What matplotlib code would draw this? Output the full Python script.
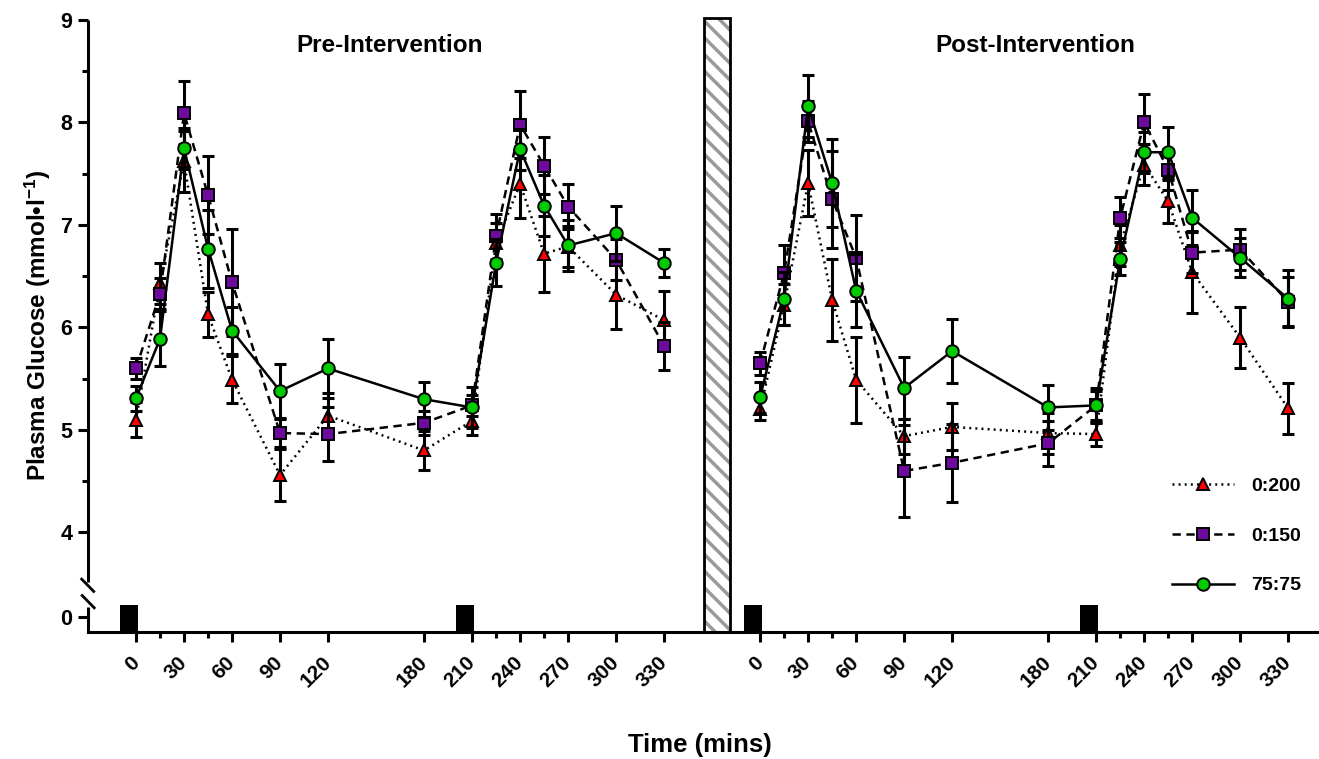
import matplotlib
matplotlib.use('Agg')
import matplotlib.pyplot as plt
import matplotlib.transforms as mtransforms
from matplotlib.lines import Line2D
from matplotlib.patches import Rectangle

plt.rcParams['font.family'] = ['Liberation Sans', 'DejaVu Sans']
plt.rcParams['font.weight'] = 'bold'
plt.rcParams['mathtext.fontset'] = 'custom'
plt.rcParams['mathtext.rm'] = 'Liberation Sans:bold'
plt.rcParams['mathtext.bf'] = 'Liberation Sans:bold'
plt.rcParams['mathtext.default'] = 'rm'
plt.rcParams['lines.scale_dashes'] = False
plt.rcParams['hatch.linewidth'] = 2.5

# ---------------- data ----------------
times = [0, 15, 30, 45, 60, 90, 120, 180, 210, 225, 240, 255, 270, 300, 330]
tick_times = [0, 30, 60, 90, 120, 180, 210, 240, 270, 300, 330]
minor_times = [15, 45, 225, 255]
meal_times = [0, 210]
series_labels = ['0:200', '0:150', '75:75']

pre_0_200 = [5.10, 6.43, 7.62, 6.13, 5.49, 4.56, 5.14, 4.80, 5.09, 6.82, 7.40, 6.72, 6.79, 6.32, 6.07]
pre_0_200_err = [0.17, 0.20, 0.30, 0.22, 0.23, 0.25, 0.22, 0.19, 0.14, 0.20, 0.33, 0.37, 0.20, 0.33, 0.29]
pre_0_150 = [5.60, 6.33, 8.09, 7.29, 6.44, 4.97, 4.96, 5.07, 5.24, 6.89, 7.98, 7.58, 7.18, 6.66, 5.82]
pre_0_150_err = [0.10, 0.15, 0.31, 0.38, 0.52, 0.14, 0.26, 0.12, 0.10, 0.22, 0.33, 0.28, 0.22, 0.20, 0.23]
pre_75_75 = [5.31, 5.89, 7.75, 6.77, 5.97, 5.38, 5.60, 5.30, 5.22, 6.63, 7.74, 7.19, 6.80, 6.92, 6.63]
pre_75_75_err = [0.12, 0.27, 0.20, 0.38, 0.23, 0.26, 0.29, 0.17, 0.20, 0.23, 0.20, 0.30, 0.25, 0.27, 0.14]

post_0_200 = [5.20, 6.22, 7.41, 6.27, 5.49, 4.94, 5.03, 4.97, 4.96, 6.80, 7.59, 7.23, 6.54, 5.90, 5.21]
post_0_200_err = [0.10, 0.20, 0.32, 0.40, 0.42, 0.17, 0.23, 0.20, 0.12, 0.20, 0.20, 0.21, 0.40, 0.30, 0.25]
post_0_150 = [5.65, 6.53, 8.01, 7.25, 6.68, 4.60, 4.68, 4.87, 5.24, 7.07, 8.00, 7.54, 6.73, 6.76, 6.25]
post_0_150_err = [0.11, 0.27, 0.20, 0.47, 0.42, 0.45, 0.38, 0.22, 0.14, 0.20, 0.28, 0.20, 0.20, 0.20, 0.24]
post_75_75 = [5.32, 6.28, 8.16, 7.41, 6.36, 5.41, 5.77, 5.22, 5.24, 6.67, 7.71, 7.71, 7.07, 6.68, 6.28]
post_75_75_err = [0.15, 0.26, 0.30, 0.43, 0.36, 0.30, 0.31, 0.22, 0.17, 0.16, 0.20, 0.25, 0.27, 0.19, 0.28]

# ---------------- layout ----------------
POST_OFFSET = 390          # x shift of post-intervention panel (minutes)
Y_ZERO = 3.176             # pseudo position of the "0" tick below the axis break
Y_LO, Y_HI = 3.029, 9.0
X_LO, X_HI = -30.2, 738

styles = [
    dict(ls=(0, (1.4, 3.0)), marker='^', mfc='#FF0000', ms=9.0, z=3),
    dict(ls=(0, (6.0, 4.0)), marker='s', mfc='#6E0A9E', ms=8.5, z=4),
    dict(ls='-', marker='o', mfc='#00CC00', ms=9.0, z=5),
]

fig = plt.figure(figsize=(13.19, 7.59), dpi=100)
ax = fig.add_axes([87.7 / 1319, 1 - 632 / 759, (1317 - 87.7) / 1319, (632 - 20) / 759])
ax.set_xlim(X_LO, X_HI)
ax.set_ylim(Y_LO, Y_HI)

panels = [
    (0, [pre_0_200, pre_0_150, pre_75_75], [pre_0_200_err, pre_0_150_err, pre_75_75_err]),
    (POST_OFFSET, [post_0_200, post_0_150, post_75_75], [post_0_200_err, post_0_150_err, post_75_75_err]),
]
for off, vals, errs in panels:
    xs = [t + off for t in times]
    for st, v, e in zip(styles, vals, errs):
        ax.errorbar(xs, v, yerr=e, fmt='none', ecolor='black', elinewidth=2.2,
                    capsize=4.6, capthick=2.2, zorder=st['z'])
        ax.plot(xs, v, color='black', lw=1.8, linestyle=st['ls'], marker=st['marker'],
                mfc=st['mfc'], mec='black', mew=1.4, ms=st['ms'], zorder=st['z'] + 0.1)
    # meal markers
    for mt in meal_times:
        ax.add_patch(Rectangle((mt + off - 10, Y_LO), 11, 3.293 - Y_LO,
                               facecolor='black', edgecolor='black', lw=0, zorder=2))

# intervention hatched bar
ax.add_patch(Rectangle((355, Y_LO), 16, Y_HI - Y_LO + 0.02, facecolor='white', edgecolor='#9a9a9a',
                       hatch='\\\\', lw=0, zorder=2, clip_on=False))
ax.add_patch(Rectangle((355, Y_LO), 16, Y_HI - Y_LO + 0.02, facecolor='none', edgecolor='black',
                       lw=2.0, zorder=2.1, clip_on=False))

# spines
for s in ['top', 'right', 'left']:
    ax.spines[s].set_visible(False)
ax.spines['bottom'].set_linewidth(2.2)
trans = mtransforms.blended_transform_factory(ax.transAxes, ax.transData)
ax.plot([0, 0], [Y_HI, 3.52], color='black', lw=2.2, transform=trans, clip_on=False, solid_capstyle='butt')
ax.plot([0, 0], [3.27, Y_LO], color='black', lw=2.2, transform=trans, clip_on=False, solid_capstyle='butt')
ax.plot([-0.0049, 0.0049], [3.545, 3.425], color='black', lw=2.0, transform=trans, clip_on=False)
ax.plot([-0.0045, 0.0053], [3.385, 3.265], color='black', lw=2.0, transform=trans, clip_on=False)

# y ticks
ax.set_yticks([Y_ZERO, 4, 5, 6, 7, 8, 9])
ax.set_yticklabels(['0', '4', '5', '6', '7', '8', '9'])
ax.set_yticks([4.5, 5.5, 6.5, 7.5, 8.5], minor=True)
ax.tick_params(axis='y', which='major', length=7, width=2.2, labelsize=15.5, pad=4)
ax.tick_params(axis='y', which='minor', length=4, width=2.2)

# x ticks
xt = tick_times + [t + POST_OFFSET for t in tick_times]
ax.set_xticks(xt)
ax.set_xticklabels([str(t) for t in tick_times] * 2, rotation=45, ha='right', va='center',
                   rotation_mode='anchor')
ax.set_xticks(minor_times + [t + POST_OFFSET for t in minor_times], minor=True)
ax.tick_params(axis='x', which='major', length=7, width=2.2, labelsize=15, pad=13)
ax.tick_params(axis='x', which='minor', length=4, width=2.2)
for lab in ax.get_xticklabels() + ax.get_yticklabels():
    lab.set_fontweight('bold')

# titles and axis labels
fig.text(390 / 1319, 1 - 45 / 759, 'Pre-Intervention', ha='center', va='center', fontsize=17.5, fontweight='bold')
fig.text(1035 / 1319, 1 - 45 / 759, 'Post-Intervention', ha='center', va='center', fontsize=17.5, fontweight='bold')
fig.text(700 / 1319, 1 - 745 / 759, 'Time (mins)', ha='center', va='center', fontsize=18.5, fontweight='bold')
fig.text(38 / 1319, 1 - 325 / 759, r'Plasma Glucose (mmol•l$^{-1}$)', ha='center', va='center',
         rotation=90, fontsize=17.5, fontweight='bold')

# legend
handles = [Line2D([], [], color='black', lw=1.8, linestyle=st['ls'], marker=st['marker'], mfc=st['mfc'],
                  mec='black', mew=1.4, ms=st['ms']) for st in styles]
leg = fig.legend(handles, series_labels, loc='center left', bbox_to_anchor=(1172 / 1319, 1 - 536 / 759),
                 frameon=False, handlelength=3.2, labelspacing=1.65, handletextpad=0.85,
                 borderpad=0, borderaxespad=0, prop={'weight': 'bold', 'size': 14})

fig.savefig('out.png', dpi=100)
